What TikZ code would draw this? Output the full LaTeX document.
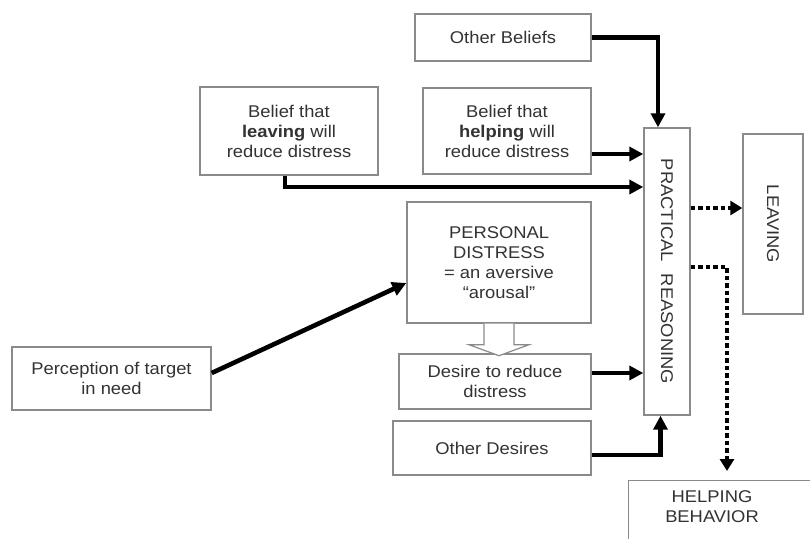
\documentclass[tikz,border=0pt]{standalone}
\usepackage{fontspec}
\setmainfont{Liberation Sans}[FakeStretch=1.08]
\usepackage{graphicx}
\usetikzlibrary{arrows.meta}
\definecolor{boxgray}{HTML}{8A8A8A}
\definecolor{txt}{HTML}{333333}
\begin{document}
\begin{tikzpicture}[x=1pt,y=-1pt,
  box/.style={draw=boxgray, line width=1.4pt, fill=white, align=center, text=txt, inner sep=0pt, font=\fontsize{17}{20}\selectfont},
  lbl/.style={align=center, text=txt, inner sep=0pt, font=\fontsize{17}{20}\selectfont},
  flow/.style={line width=4.6pt, -{Triangle[length=14pt,width=14pt]}},
  dotflow/.style={line width=4.6pt, dash pattern=on 4.5pt off 3pt, -{Triangle[length=12pt,width=14pt]}},
  block/.style={draw=boxgray, line width=1.2pt, fill=white}]
\useasboundingbox (0,0) rectangle (810,538);

% boxes
\node[box, minimum width=176pt, minimum height=47pt] (ob) at (503,37.5) {Other Beliefs};
\node[box, minimum width=168pt, minimum height=86pt] (bh) at (507,131) {Belief that\\\textbf{helping} will\\reduce distress};
\node[box, minimum width=178pt, minimum height=88pt] (bl) at (289,131) {Belief that\\\textbf{leaving} will\\reduce distress};
\node[box, minimum width=184pt, minimum height=121pt] (pd) at (499,262.5) {PERSONAL\\DISTRESS\\= an aversive\\``arousal''};
\node[box, minimum width=192pt, minimum height=55pt] (dr) at (495,381.5) {Desire to reduce\\distress};
\node[box, minimum width=198pt, minimum height=54pt] (od) at (492,448) {Other Desires};
\node[box, minimum width=199pt, minimum height=63pt] (pn) at (111.5,378.5) {Perception of target\\in need};
\node[box, minimum width=46pt, minimum height=287pt] (pr) at (667,271.5) {\rotatebox{-90}{PRACTICAL\hspace{12pt}REASONING}};
\node[box, minimum width=60pt, minimum height=180pt] (lv) at (773,224) {\rotatebox{-90}{LEAVING}};
\node[box, anchor=north west, minimum width=200pt, minimum height=80pt] (hb) at (628,480) {};
\node[lbl] (help) at (712,507) {HELPING\\BEHAVIOR};
\coordinate (hpt) at (727,471);

% solid connectors
\draw[flow] (ob.east) -| ([xshift=-9pt]pr.north);
\draw[flow] ([yshift=-23pt]bh.east) coordinate (a1) -- (a1 -| pr.west);
\draw[flow] ([xshift=-4pt]bl.south) |- (pr.west |- 0,187);
\draw[flow] ([yshift=5.5pt]pn.east) -- ([yshift=-20.5pt]pd.west);
\draw[flow] ([yshift=8.5pt]dr.east) coordinate (a2) -- (a2 -| pr.west);
\draw[flow] ([yshift=-7pt]od.east) -| ([xshift=-6.5pt]pr.south);

% hollow block arrow
\draw[block] ([xshift=-15pt]pd.south) -- ++(0,21) -- ++(-15,0) -- ++(30,11) -- ++(30,-11) -- ++(-15,0) -- ++(0,-21);

% dotted connectors
\draw[dotflow] ([yshift=63.5pt]pr.east) coordinate (a3) -- (a3 -| lv.west);
\draw[dotflow] ([yshift=4.5pt]pr.east) -| (hpt);
\end{tikzpicture}
\end{document}
